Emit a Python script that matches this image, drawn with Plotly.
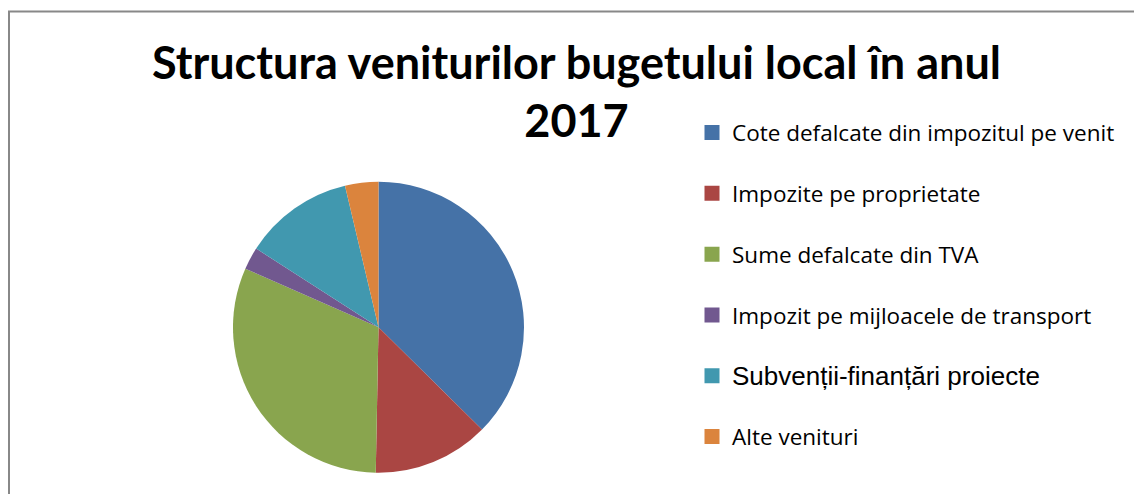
import plotly.graph_objects as go

categories = [
    "Cote defalcate din impozitul pe venit",
    "Impozite pe proprietate",
    "Sume defalcate din TVA",
    "Impozit pe mijloacele de transport",
    "Subvenții-finanțări proiecte",
    "Alte venituri",
]
values = [37.4, 12.9, 31.3, 2.5, 12.2, 3.7]
colors = ["#4572A7", "#AA4643", "#89A54E", "#71588F", "#4198AF", "#DB843D"]
title_text = "Structura veniturilor bugetului local în anul<br>2017"

W, H = 1134, 494

fig = go.Figure()
fig.add_trace(go.Pie(
    labels=categories,
    values=values,
    marker=dict(colors=colors, line=dict(width=0)),
    sort=False,
    direction="clockwise",
    rotation=0,
    textinfo="none",
    showlegend=False,
    domain=dict(x=[233 / W, 524 / W], y=[(H - 472.8) / H, (H - 181.8) / H]),
))

legend_labels = list(categories)
legend_labels[4] = ('<span style="font-family:Liberation Sans, Arial; font-size:26px;">'
                    + categories[4] + '</span>')
for i, (lab, col) in enumerate(zip(legend_labels, colors)):
    fig.add_trace(go.Scatter(
        x=[None], y=[None], mode="markers", name=lab,
        marker=dict(symbol="square", size=15, color=col),
        legendgroup="g%d" % i, showlegend=True, hoverinfo="skip",
    ))

fig.add_shape(type="rect", xref="paper", yref="paper",
              x0=9 / W, x1=1.1, y0=-0.1, y1=1 - 11.5 / H,
              line=dict(color="#888888", width=2), fillcolor="rgba(0,0,0,0)")

fig.update_layout(
    width=W, height=H,
    margin=dict(l=0, r=0, t=0, b=0),
    paper_bgcolor="white", plot_bgcolor="white",
    xaxis=dict(visible=False), yaxis=dict(visible=False),
    title=dict(text=title_text, x=576.5 / W, xanchor="center",
               y=1 - 78.5 / H, yanchor="top",
               font=dict(family="Lato", size=45, color="black", weight="bold")),
    legend=dict(x=692 / W, xanchor="left", y=1 - 111.4 / H, yanchor="top",
                traceorder="grouped", tracegroupgap=28.55,
                font=dict(family="Open Sans", size=22.5, color="black"),
                bgcolor="rgba(0,0,0,0)"),
    showlegend=True,
)

fig.write_html("out.html", config={"displayModeBar": False},
               post_script="document.body.style.margin='0';")
